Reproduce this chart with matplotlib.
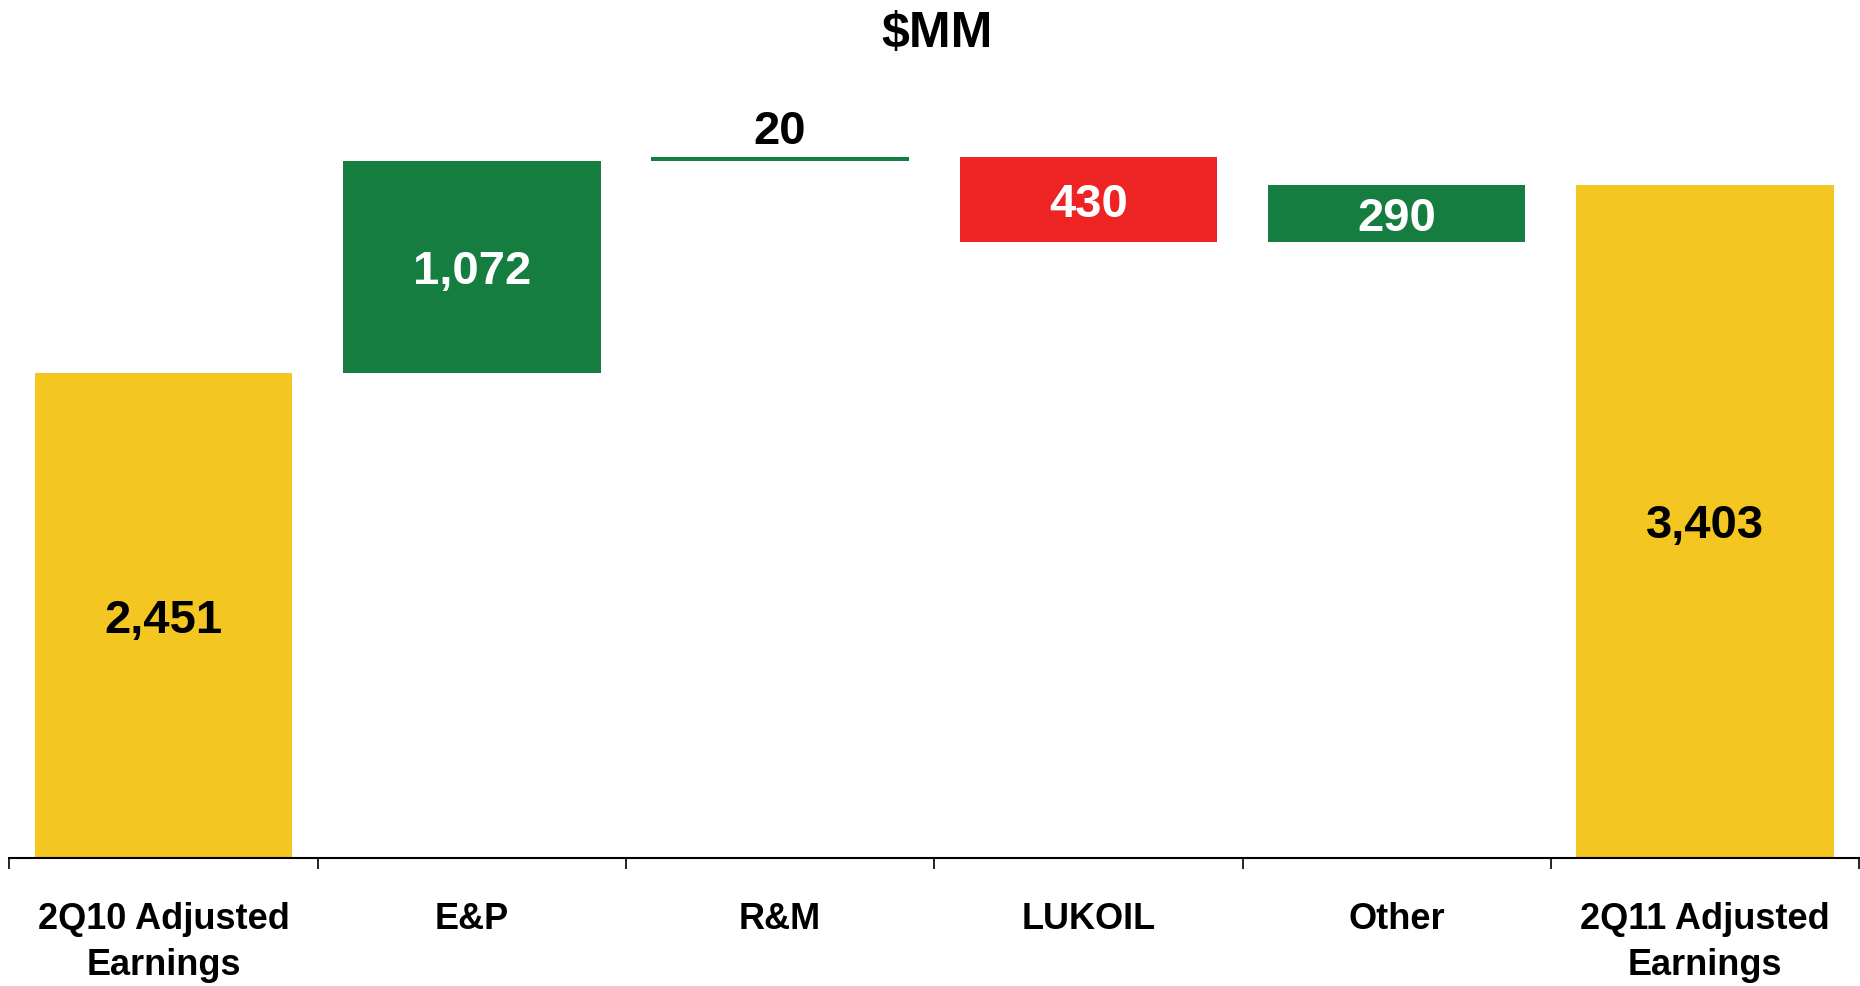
import numpy as np
import matplotlib.pyplot as plt

# waterfall data ($MM)
categories = ['2Q10 Adjusted\nEarnings', 'E&P', 'R&M', 'LUKOIL', 'Other', '2Q11 Adjusted\nEarnings']
start_total = 2451
changes = [1072, 20, -430, 290]
end_total = 3403
labels = ['2,451', '1,072', '20', '430', '290', '3,403']

yellow = '#F4C622'
green = '#147D3F'
red = '#EE2324'

plt.rcParams['font.family'] = ['Liberation Sans', 'DejaVu Sans']
plt.rcParams['font.weight'] = 'bold'

# build bottoms/heights from the changes
bottoms = [0]
heights = [start_total]
colors = [yellow]
running = start_total
for c in changes:
    if c >= 0:
        bottoms.append(running)
        heights.append(c)
        colors.append(green)
    else:
        bottoms.append(running + c)
        heights.append(-c)
        colors.append(red)
    running += c
bottoms.append(0)
heights.append(end_total)
colors.append(yellow)

fig = plt.figure(figsize=(18.6, 9.86), dpi=100)
ax = fig.add_axes([0.0051, 0.1298, 0.9944, 0.8702])

x = np.arange(len(categories))
ax.bar(x, heights, bottom=bottoms, width=0.835, color=colors)

# value labels (nudged down a little so digits sit centred)
for i, (b, h, lab) in enumerate(zip(bottoms, heights, labels)):
    txt_color = 'black' if colors[i] == yellow else 'white'
    if h < 100:
        ax.text(i, b + h + 15, lab, ha='center', va='bottom', fontsize=34,
                fontweight='bold', color='black')
    else:
        ax.text(i, b + h / 2 - 25, lab, ha='center', va='center', fontsize=34,
                fontweight='bold', color=txt_color)

ax.set_xlim(-0.5, len(categories) - 0.5)
ax.set_ylim(0, 4338)

for s in ['top', 'right', 'left']:
    ax.spines[s].set_visible(False)
ax.spines['bottom'].set_linewidth(1.5)
ax.set_yticks([])

ax.set_xticks(x)
ax.set_xticklabels(categories, fontsize=26, fontweight='bold', linespacing=1.38)
ax.tick_params(axis='x', which='major', length=0, pad=32)
ax.set_xticks(np.arange(len(categories) + 1) - 0.5, minor=True)
ax.tick_params(axis='x', which='minor', length=8, width=1.2, color='black')

fig.text(0.504, 0.966, '$MM', ha='center', va='center', fontsize=36, fontweight='bold')

fig.savefig('out.png', dpi=100)
